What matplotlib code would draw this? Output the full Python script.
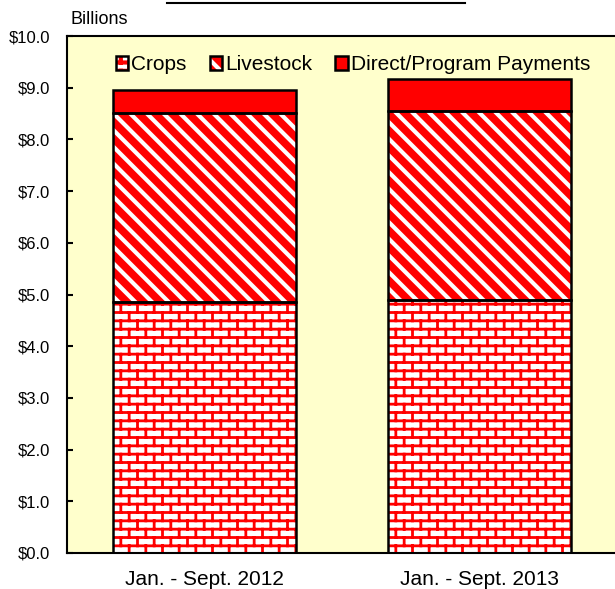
import numpy as np
import matplotlib
matplotlib.use('Agg')
import matplotlib.pyplot as plt
from matplotlib import hatch as mhatch
from matplotlib.path import Path
from matplotlib.lines import Line2D
from matplotlib.legend_handler import HandlerTuple

# data (billions of dollars)
periods = ['Jan. - Sept. 2012', 'Jan. - Sept. 2013']
crops = [4.85, 4.89]
livestock = [3.66, 3.66]
direct = [0.44, 0.61]
series_names = ['Crops', 'Livestock', 'Direct/Program Payments']
yticks = np.arange(0, 10.01, 1.0)


# brick wall hatch, hooked onto the '*' hatch character
class BrickHatch(mhatch.HatchPatternBase):
    def __init__(self, hatch, density):
        self.rows = 12 if '*' in hatch else 0
        self.cols = 6
        self.num_vertices = 2 * self.rows + 2 * (self.rows + 1) * self.cols if self.rows else 0

    def set_vertices_and_codes(self, vertices, codes):
        k = 0
        for r in range(self.rows):
            y = (r + 0.5) / self.rows
            vertices[k] = (0, y)
            vertices[k + 1] = (1, y)
            k += 2
        for r in range(-1, self.rows):
            y0 = max((r + 0.5) / self.rows, 0)
            y1 = min((r + 1.5) / self.rows, 1)
            off = 0.75 if r % 2 else 0.25
            for j in range(self.cols):
                xx = (j + off) / self.cols
                vertices[k] = (xx, y0)
                vertices[k + 1] = (xx, y1)
                k += 2
        codes[0::2] = Path.MOVETO
        codes[1::2] = Path.LINETO


mhatch._hatch_types = [t for t in mhatch._hatch_types if t is not mhatch.Stars] + [BrickHatch]

plt.rcParams['font.family'] = ['Liberation Sans', 'DejaVu Sans']

fig, ax = plt.subplots(figsize=(6.15, 5.89), dpi=100)
fig.subplots_adjust(left=67/615, right=617/615, top=1-36/589, bottom=1-553/589)
ax.set_facecolor('#ffffcc')

x = np.arange(len(periods))
w = 0.666
top2 = np.add(crops, livestock)

brick_lw = 2.0
stripe_lw = 3.0
plt.rcParams['hatch.linewidth'] = brick_lw
b1 = ax.bar(x, crops, w, facecolor='white', edgecolor='red', lw=0, hatch='*', zorder=2)
plt.rcParams['hatch.linewidth'] = stripe_lw
b2 = ax.bar(x, livestock, w, bottom=crops, facecolor='red', edgecolor='white', lw=0,
            hatch='\\\\', zorder=2)
b3 = ax.bar(x, direct, w, bottom=top2, facecolor='red', edgecolor='red', lw=0, zorder=2)
for p in b1:
    if hasattr(p, 'set_hatch_linewidth'):
        p.set_hatch_linewidth(brick_lw)
for p in b2:
    if hasattr(p, 'set_hatch_linewidth'):
        p.set_hatch_linewidth(stripe_lw)

o1 = ax.bar(x, crops, w, fill=False, edgecolor='black', lw=1.8, zorder=3)
o2 = ax.bar(x, livestock, w, bottom=crops, fill=False, edgecolor='black', lw=1.8, zorder=3)
o3 = ax.bar(x, direct, w, bottom=top2, fill=False, edgecolor='black', lw=1.8, zorder=3)

ax.set_xlim(-0.5, 1.5)
ax.set_ylim(0, 10)
ax.set_yticks(yticks)
ax.set_yticklabels(['$%.1f' % v for v in yticks], fontsize=12)
ax.set_xticks(x)
ax.set_xticklabels(periods, fontsize=15)
ax.tick_params(axis='y', direction='in', length=4, width=1.5, pad=12)
ax.tick_params(axis='x', length=0, pad=12)
for s in ax.spines.values():
    s.set_linewidth(1.5)

fig.text(70/615, 1-19/589, 'Billions', fontsize=13, va='center', ha='left')

ax.legend([(b1, o1), (b2, o2), (b3, o3)], series_names,
          handler_map={tuple: HandlerTuple(ndivide=1)},
          loc='center', bbox_to_anchor=(0.52, 0.944), ncol=3, frameon=False,
          fontsize=15, handlelength=0.6, handleheight=0.6, handletextpad=0.15,
          columnspacing=1.1, borderpad=0, borderaxespad=0)

fig.add_artist(Line2D([167/615, 465/615], [1-3/589, 1-3/589], transform=fig.transFigure,
                      color='black', lw=1.5))

fig.savefig('out.png', dpi=100)
